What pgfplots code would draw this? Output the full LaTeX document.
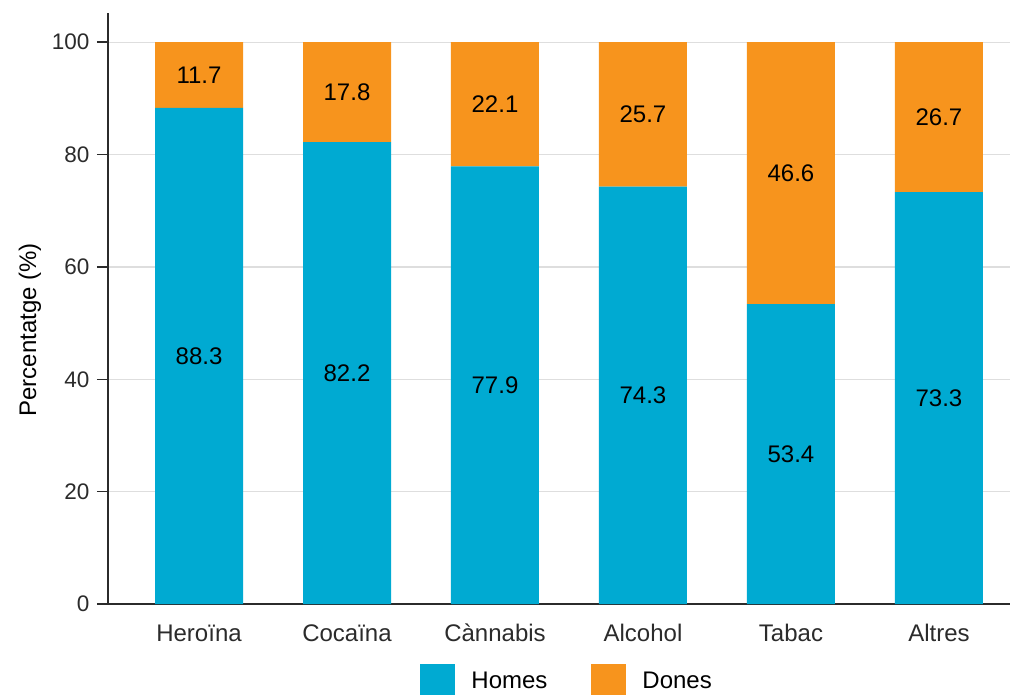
\documentclass[border=0pt]{standalone}
\usepackage{pgfplots}
\pgfplotsset{compat=1.18}
\usepackage{fontspec}
\setmainfont{Liberation Sans}
\definecolor{homes}{HTML}{00AAD2}
\definecolor{dones}{HTML}{F7941D}
\definecolor{gridc}{HTML}{DEDEDE}
\definecolor{axc}{HTML}{2B2B2B}
\pgfplotsset{mylegend/.style={legend image code/.code={\fill[##1,draw=none] (0pt,-17.5pt) rectangle (35pt,17.5pt);}}}
\begin{document}
\begin{tikzpicture}[x=1pt,y=1pt]
\path[use as bounding box] (0,0) rectangle (1018,694);
\begin{axis}[
 at={(108pt,90pt)}, anchor=south west,
 scale only axis, width=902pt, height=591pt,
 ybar stacked, bar width=88pt,
 xmin=-0.615, xmax=5.48, ymin=0, ymax=105.2,
 xtick={0,1,2,3,4,5},
 xticklabels={Heroïna,Cocaïna,Cànnabis,Alcohol,Tabac,Altres},
 ytick={0,20,40,60,80,100},
 axis x line*=bottom, axis y line*=left,
 axis line style={axc, line width=1.5pt},
 tick align=outside, major tick length=11pt,
 xtick style={draw=none},
 ytick style={axc, line width=1.5pt},
 ymajorgrids, grid style={gridc, line width=1.2pt},
 /pgf/number format/assume math mode=true,
 yticklabel style={font=\fontsize{22.5}{26}\selectfont, text=axc, xshift=-4pt},
 xticklabel style={font=\fontsize{24}{28}\selectfont, text=axc, yshift=-5pt, text height=17.5pt, text depth=5pt},
 ylabel={Percentatge (\%)},
 ylabel style={font=\fontsize{24}{28}\selectfont, at={(axis description cs:-0.0865,0.464)}, anchor=center},
 nodes near coords={\pgfmathprintnumber[fixed,fixed zerofill,precision=1,assume math mode=true]{\pgfplotspointmeta}},
 every node near coord/.append style={font=\fontsize{24}{28}\selectfont, text=black, anchor=center},
 legend style={at={(axis description cs:0.509,0)}, anchor=center, yshift=-77pt, draw=none, fill=none, font=\fontsize{24}{28}\selectfont, /tikz/every even column/.append style={column sep=42pt}, /tikz/every odd column/.append style={column sep=14pt}},
 legend columns=2,
 legend cell align=left,
]
\addplot[fill=homes, draw=none, mylegend] coordinates {(0,88.3) (1,82.2) (2,77.9) (3,74.3) (4,53.4) (5,73.3)};
\addplot[fill=dones, draw=none, mylegend] coordinates {(0,11.7) (1,17.8) (2,22.1) (3,25.7) (4,46.6) (5,26.7)};
\legend{Homes,Dones}
\end{axis}
\end{tikzpicture}
\end{document}
